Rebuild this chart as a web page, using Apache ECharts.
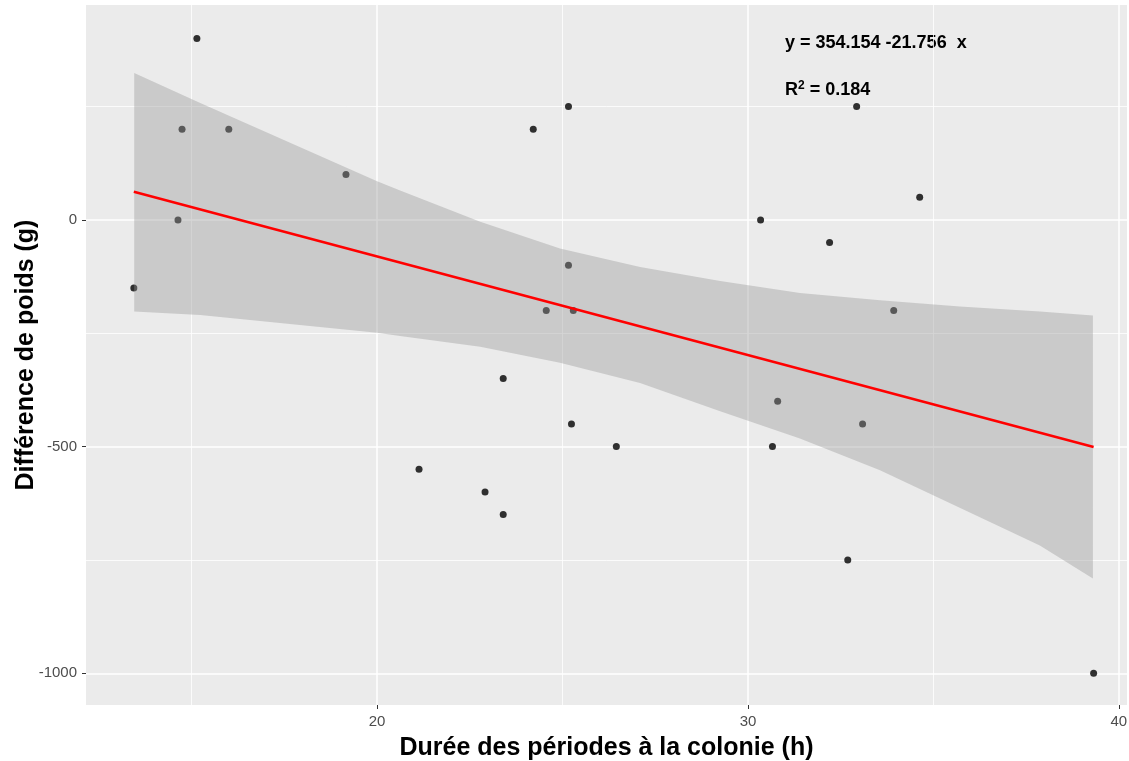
<!DOCTYPE html>
<html>
<head>
<meta charset="utf-8">
<script src="https://cdn.jsdelivr.net/npm/echarts@6/dist/echarts.min.js"></script>
<style>
  html, body { margin: 0; padding: 0; background: #fff; }
  #chart { width: 1129px; height: 761px; }
</style>
</head>
<body>
<div id="chart"></div>
<script>
// points: durée (h) / différence de poids (g)
const dureeH = [13.44, 14.63, 14.74, 15.14, 16.0, 19.16, 21.13, 22.91, 23.4, 23.4, 24.21, 24.56, 25.16, 25.16,
  25.29, 25.24, 26.45, 30.34, 30.66, 30.8, 32.2, 32.69, 32.93, 33.09, 33.93, 34.63, 39.32];
const diffPoids = [-150, 0, 200, 400, 200, 100, -550, -600, -350, -650, 200, -200, 250, -100,
  -200, -450, -500, 0, -500, -400, -50, -750, 250, -450, -200, 50, -1000];

// intervalle de confiance
const bandX = [13.45, 15.23, 20, 20.62, 22.78, 24.93, 27.09, 29.25, 31.40, 33.56, 35.71, 37.87, 39.30];
const bandHaut = [324, 258, 85, 65, -4, -63, -104, -135, -161, -177, -191, -202, -211];
const bandBas = [-202, -210, -249, -256, -280, -315, -360, -422, -482, -552, -635, -718, -791];

// droite de régression
const ajustX = [13.44, 39.32];
const ajustY = [62, -501];

const xTicks = [20, 30, 40];
const xMinor = [15, 25, 35];
const yTicks = [-1000, -500, 0];
const yMinor = [-750, -250, 250];

const font = "'Liberation Sans', Arial, sans-serif";
const xMin = 12.15, xMax = 40.22, yMin = -1070, yMax = 474;

const myChart = echarts.init(document.getElementById("chart"));

const baseAxis = (min, max) => ({
  type: "value",
  min: min,
  max: max,
  axisLine: { show: false, onZero: false },
  splitArea: { show: false },
});

const tickLabel = {
  fontFamily: font,
  fontSize: 15,
  color: "#4D4D4D",
  formatter: (v) => String(v),
};

myChart.setOption({
  animation: false,
  backgroundColor: "#fff",
  grid: {
    left: 86, right: 2, top: 5, bottom: 56,
    outerBoundsMode: "none", containLabel: false,
    show: true, backgroundColor: "#EBEBEB", borderWidth: 0,
  },
  xAxis: [
    {
      ...baseAxis(xMin, xMax),
      name: "Durée des périodes à la colonie (h)",
      nameLocation: "middle",
      nameGap: 31,
      nameMoveOverlap: false,
      nameTextStyle: { fontFamily: font, fontSize: 25, fontWeight: "bold", color: "#000" },
      axisTick: { show: true, length: 4, lineStyle: { color: "#333", width: 1 }, customValues: xTicks },
      axisLabel: { ...tickLabel, customValues: xTicks, margin: 9 },
      splitLine: { show: true, lineStyle: { color: "#fff", width: 1.5 } },
    },
    {
      ...baseAxis(xMin, xMax),
      position: "bottom",
      axisTick: { show: false, customValues: xMinor },
      axisLabel: { show: false, customValues: xMinor },
      splitLine: { show: true, lineStyle: { color: "#fff", width: 0.8 } },
    },
  ],
  yAxis: [
    {
      ...baseAxis(yMin, yMax),
      name: "Différence de poids (g)",
      nameLocation: "middle",
      nameGap: 47,
      nameRotate: 90,
      nameMoveOverlap: false,
      nameTextStyle: { fontFamily: font, fontSize: 25, fontWeight: "bold", color: "#000" },
      axisTick: { show: true, length: 4, lineStyle: { color: "#333", width: 1 }, customValues: yTicks },
      axisLabel: { ...tickLabel, customValues: yTicks, margin: 9 },
      splitLine: { show: true, lineStyle: { color: "#fff", width: 1.5 } },
    },
    {
      ...baseAxis(yMin, yMax),
      position: "left",
      axisTick: { show: false, customValues: yMinor },
      axisLabel: { show: false, customValues: yMinor },
      splitLine: { show: true, lineStyle: { color: "#fff", width: 0.8 } },
    },
  ],
  series: [
    {
      type: "scatter",
      data: dureeH.map((x, i) => [x, diffPoids[i]]),
      symbolSize: 7,
      itemStyle: { color: "#000" },
      z: 2,
    },
    {
      type: "custom",
      data: [[bandX[0], bandHaut[0]]],
      renderItem: function (params, api) {
        const pts = [];
        bandX.forEach((x, i) => pts.push(api.coord([x, bandHaut[i]])));
        for (let i = bandX.length - 1; i >= 0; i--) {
          pts.push(api.coord([bandX[i], bandBas[i]]));
        }
        return { type: "polygon", shape: { points: pts }, style: { fill: "rgba(153,153,153,0.4)" } };
      },
      z: 3,
      silent: true,
    },
    {
      type: "line",
      data: ajustX.map((x, i) => [x, ajustY[i]]),
      showSymbol: false,
      lineStyle: { color: "#FF0000", width: 2.5 },
      z: 4,
    },
  ],
  graphic: [
    {
      type: "text",
      left: 785,
      top: 34,
      style: { text: "y = 354.154 -21.756  x", font: "bold 18px " + font, fill: "#000" },
    },
    {
      type: "text",
      left: 785,
      top: 80,
      style: {
        text: "R{s|2} = 0.184",
        font: "bold 18px " + font,
        fill: "#000",
        rich: { s: { fontSize: 12, fontWeight: "bold", fontFamily: font, verticalAlign: "top", padding: [0, 0, 8, 0] } },
      },
    },
  ],
});
</script>
</body>
</html>
